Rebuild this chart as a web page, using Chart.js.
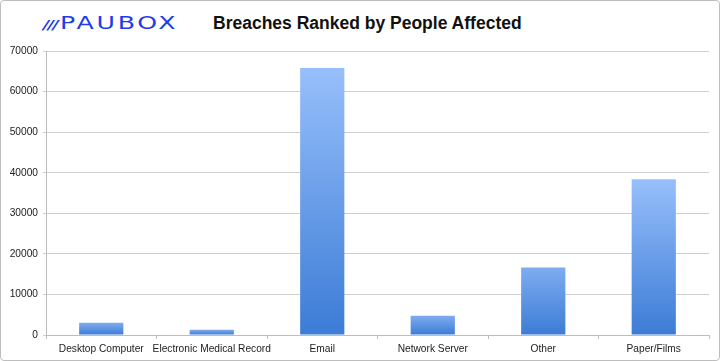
<!DOCTYPE html>
<html>
<head>
<meta charset="utf-8">
<script src="https://cdn.jsdelivr.net/npm/chart.js@4"></script>
<style>
    html, body { margin: 0; padding: 0; background: #fff; }
    .frame {
        position: relative;
        width: 718px;
        height: 359px;
        border: 1px solid #bdbdbd;
        border-radius: 4px;
        overflow: hidden;
    }
    .logo {
        position: absolute;
        left: 42px;
        top: 11px;
        font-family: "DejaVu Sans", sans-serif;
        color: #1f3be8;
        font-size: 18px;
        letter-spacing: 2px;
        transform: scale(1.4, 1);
        transform-origin: left top;
    }
    .logo .marks { font-size: 12px; letter-spacing: -1px; font-style: italic; margin-right: 2px; font-weight: bold; }
    .title {
        position: absolute;
        left: 212px;
        top: 12px;
        font-family: "Liberation Sans", Arial, sans-serif;
        font-weight: bold;
        font-size: 17.5px;
        color: #111;
    }
    canvas { position: absolute; left: 0; top: 0; }
</style>
</head>
<body>
<div class="frame">
    <div class="logo"><span class="marks">///</span>PAUBOX</div>
    <div class="title">Breaches Ranked by People Affected</div>
    <canvas id="breachChart" width="718" height="359"></canvas>
</div>
<script>
// data
const categories = ['Desktop Computer', 'Electronic Medical Record', 'Email', 'Network Server', 'Other', 'Paper/Films'];
const peopleAffected = [3000, 1300, 65800, 4750, 16650, 38400];
const yTicks = [0, 10000, 20000, 30000, 40000, 50000, 60000, 70000];

// light blue on top, deeper blue at the base, for each bar
function barGradient(context) {
    const chart = context.chart;
    if (!chart.chartArea) return '#6b9fe8';
    const y = chart.scales.y;
    const top = y.getPixelForValue(peopleAffected[context.dataIndex]);
    const bottom = y.getPixelForValue(0);
    const ctx = chart.ctx;
    const tall = (bottom - top) / (chart.chartArea.bottom - chart.chartArea.top);
    const g = ctx.createLinearGradient(0, top, 0, bottom);
    g.addColorStop(0, tall > 0.3 ? '#97bffb' : '#7eacf0');
    g.addColorStop(1, '#3c7cd6');
    return g;
}

const tickFont = { family: '"Liberation Sans", Arial, sans-serif', size: 10.2 };

new Chart(document.getElementById('breachChart'), {
    type: 'bar',
    data: {
        labels: categories,
        datasets: [{
            data: peopleAffected,
            backgroundColor: barGradient,
            borderWidth: 0,
            categoryPercentage: 1,
            barPercentage: 0.4
        }]
    },
    options: {
        responsive: false,
        animation: false,
        layout: { padding: { top: 50, right: 10, left: 0, bottom: 0 } },
        plugins: {
            legend: { display: false },
            tooltip: { enabled: false }
        },
        scales: {
            x: {
                grid: {
                    offset: true,
                    drawOnChartArea: false,
                    color: '#bdbdbd',
                    tickLength: 4
                },
                border: { color: '#bdbdbd', width: 1 },
                ticks: { color: '#222', font: tickFont, padding: 4, maxRotation: 0, autoSkip: false },
                afterFit: s => { s.height = 25; }
            },
            y: {
                min: 0,
                max: 70000,
                afterBuildTicks: s => { s.ticks = yTicks.map(v => ({ value: v })); },
                grid: { color: '#cfcfcf', tickLength: 3 },
                border: { color: '#bdbdbd', width: 1 },
                ticks: { color: '#222', font: tickFont, padding: 5, callback: v => String(v) },
                afterFit: s => { s.width = 45; }
            }
        }
    }
});
</script>
</body>
</html>
